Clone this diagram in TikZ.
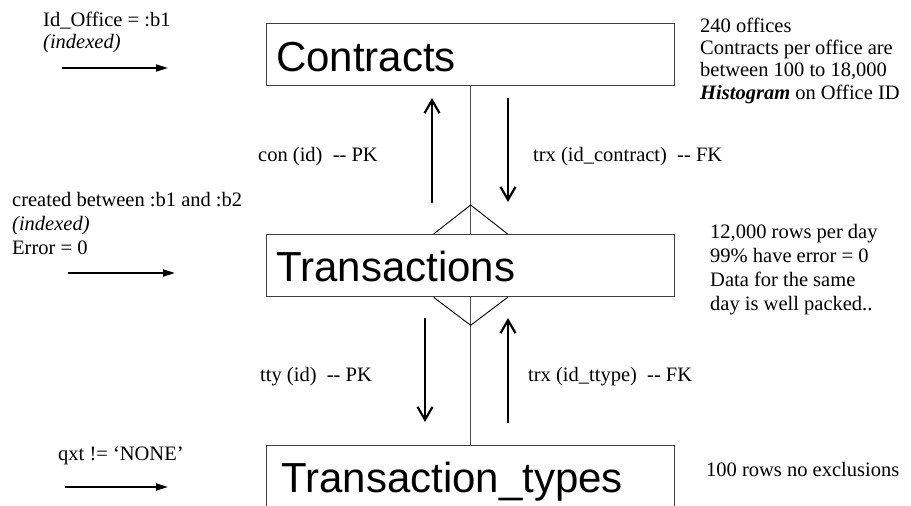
\documentclass[tikz,border=0pt]{standalone}
\usepackage{fontspec}
\setmainfont{Liberation Serif}
\newfontfamily\titlefont{Liberation Sans}
\usetikzlibrary{arrows.meta,calc}

\begin{document}
\begin{tikzpicture}[x=1pt,y=-1pt,
  table/.style={draw=black!75, line width=1.3pt, minimum width=408pt,
    minimum height=62pt, inner sep=0pt, anchor=north west},
  title/.style={font=\titlefont\fontsize{42}{48}\selectfont,
    inner sep=0pt, anchor=base west},
  note/.style={font=\fontsize{20.5}{22.4}\selectfont, align=left,
    inner sep=0pt, anchor=base west},
  wide/.style={font=\fontsize{20.5}{24}\selectfont},
  link/.style={draw=black!70, line width=1pt},
  foot/.style={line width=0.9pt},
  refarrow/.style={line width=2.2pt, -{Straight Barb[length=13pt,width=15pt]}},
  filterarrow/.style={line width=1.7pt, -{Triangle[length=12pt,width=7pt]}},
]
\useasboundingbox (0,0) rectangle (911,506);

% tables
\node[table] (con) at (266,23) {};
\node[title] (con-t) at ($(con.north west)+(10,48)$) {Contracts};
\node[table] (trx) at (266,234) {};
\node[title] (trx-t) at ($(trx.north west)+(10,47)$) {Transactions};
\node[table] (tty) at (266,445) {};
\node[title] (tty-t) at ($(tty.north west)+(15,47)$) {Transaction\_types};

% relationship lines with crow's feet on Transactions
\draw[link] (con.south) -- (trx.north);
\draw[link] (trx.south) -- (tty.north);
\draw[foot] ($(trx.north)+(-37,0)$) -- ($(trx.north)+(0,-29)$) -- ($(trx.north)+(37,0)$);
\draw[foot] ($(trx.south)+(-37,0)$) -- ($(trx.south)+(0,28)$) -- ($(trx.south)+(37,0)$);

% join direction arrows
\coordinate (pk1s) at (432,203); \coordinate (pk1e) at (432,98);
\coordinate (fk1s) at (508,98);  \coordinate (fk1e) at (508,202);
\coordinate (pk2s) at (425,318); \coordinate (pk2e) at (425,422);
\coordinate (fk2s) at (508,423); \coordinate (fk2e) at (508,318);
\draw[refarrow] (pk1s) -- (pk1e);
\draw[refarrow] (fk1s) -- (fk1e);
\draw[refarrow] (pk2s) -- (pk2e);
\draw[refarrow] (fk2s) -- (fk2e);

% key labels
\node[note] (k1) at (258,161) {con (id)\ \ -\kern0pt- PK};
\node[note] (k2) at (533,161) {trx (id\_contract)\ \ -\kern0pt- FK};
\node[note] (k3) at (260,381) {tty (id)\ \ -\kern0pt- PK};
\node[note] (k4) at (528,381) {trx (id\_ttype)\ \ -\kern0pt- FK};

% filter predicates (base anchor sits on the last line)
\node[note] (f1) at (43,48.4) {Id\_Office = :b1\\\textit{(indexed)}};
\node[note, wide] (f2) at (12,254) {created between :b1 and :b2\\\textit{(indexed)}\\Error = 0};
\node[note] (f3) at (58,460) {qxt != ‘NONE’};
\coordinate (f1a) at (62,68);  \coordinate (f1b) at (168,68);
\coordinate (f2a) at (68,273); \coordinate (f2b) at (175,273);
\coordinate (f3a) at (65,487); \coordinate (f3b) at (168,487);
\draw[filterarrow] (f1a) -- (f1b);
\draw[filterarrow] (f2a) -- (f2b);
\draw[filterarrow] (f3a) -- (f3b);

% statistics
\node[note] (s1) at (700,99.2) {240 offices\\Contracts per office are\\between 100 to 18,000\\\textbf{\textit{Histogram}} on Office ID};
\node[note, wide] (s2) at (710,310) {12,000 rows per day\\99\% have error = 0\\Data for the same\\day is well packed..};
\node[note] (s3) at (706,476) {100 rows no exclusions};
\end{tikzpicture}
\end{document}
